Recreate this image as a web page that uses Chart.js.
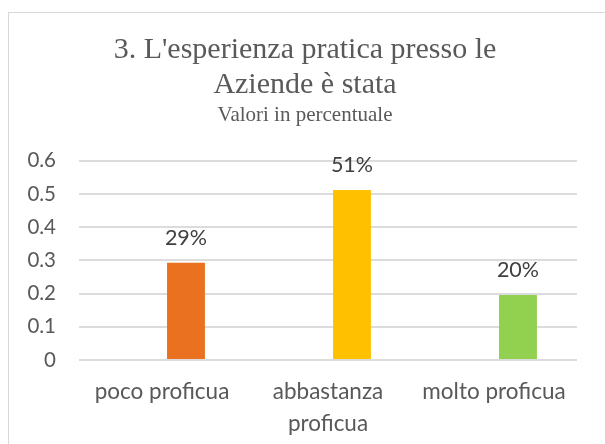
<!DOCTYPE html>
<html>
<head>
<meta charset="utf-8">
<script src="https://cdn.jsdelivr.net/npm/chart.js@4/dist/chart.umd.min.js"></script>
<style>
  html, body { margin: 0; padding: 0; background: #ffffff; width: 605px; height: 444px; overflow: hidden; }
  #frame { position: absolute; left: 8px; top: 12px; width: 700px; height: 600px; border: 1px solid #d9d9d9; box-sizing: border-box; }
  #wrap { position: absolute; left: 0; top: 0; width: 610px; height: 444px; }
</style>
</head>
<body>
<div id="frame"></div>
<div id="wrap"><canvas id="c" width="610" height="444"></canvas></div>
<script>
// ---- data ----
const categories = ['poco proficua', ['abbastanza', 'proficua'], 'molto proficua'];
const values = [0.293, 0.512, 0.196];
const spacerSeries = [null, null, null];   // empty first series (bars are offset right in the original)
const barColors = ['#E97120', '#FFC000', '#92D050'];
const yMin = 0, yMax = 0.6, yStep = 0.1;
const titleLines = ["3. L'esperienza pratica presso le", 'Aziende è stata'];
const subtitleText = 'Valori in percentuale';

const dataLabels = {
  id: 'dataLabels',
  afterDatasetsDraw(chart) {
    const ctx = chart.ctx;
    const meta = chart.getDatasetMeta(1);
    ctx.save();
    ctx.font = '21.5px Lato';
    ctx.fillStyle = '#404040';
    ctx.textAlign = 'center';
    ctx.textBaseline = 'alphabetic';
    meta.data.forEach((bar, i) => {
      ctx.fillText(Math.round(values[i] * 100) + '%', bar.x, bar.y - 18);
    });
    ctx.restore();
  }
};

new Chart(document.getElementById('c'), {
  type: 'bar',
  data: {
    labels: categories,
    datasets: [
      { data: spacerSeries, backgroundColor: 'rgba(0,0,0,0)' },
      { data: values, backgroundColor: barColors }
    ]
  },
  options: {
    responsive: false,
    animation: false,
    maintainAspectRatio: false,
    datasets: { bar: { categoryPercentage: 0.578, barPercentage: 0.79 } },
    layout: { padding: { left: 0, right: 0, top: 0, bottom: 0 } },
    plugins: {
      legend: { display: false },
      tooltip: { enabled: false },
      title: {
        display: true,
        text: titleLines,
        color: '#595959',
        font: { family: 'Liberation Serif', size: 30, weight: 'normal', lineHeight: 35 / 30 },
        padding: { top: 33, bottom: 0 }
      },
      subtitle: {
        display: true,
        text: subtitleText,
        color: '#595959',
        font: { family: 'Liberation Serif', size: 21, weight: 'normal', lineHeight: 1.2 },
        padding: { top: 0, bottom: 32.5 }
      }
    },
    scales: {
      x: {
        grid: { display: false, drawTicks: false },
        border: { display: false },
        ticks: { color: '#595959', font: { family: 'Lato', size: 22.5, lineHeight: 1.4 }, padding: 16, maxRotation: 0, autoSkip: false },
        afterFit(s) { s.height = 84; }
      },
      y: {
        min: yMin, max: yMax,
        grid: { color: '#dcdcdc', lineWidth: 2, drawTicks: false },
        border: { display: false },
        ticks: { stepSize: yStep, color: '#595959', font: { family: 'Lato', size: 20.5 }, padding: 23 },
        afterFit(s) { s.width = 79; }
      },
      yRight: {
        position: 'right',
        display: true,
        grid: { display: false, drawTicks: false },
        border: { display: false },
        ticks: { display: false },
        afterFit(s) { s.width = 33; }
      }
    }
  },
  plugins: [dataLabels]
});
</script>
</body>
</html>
